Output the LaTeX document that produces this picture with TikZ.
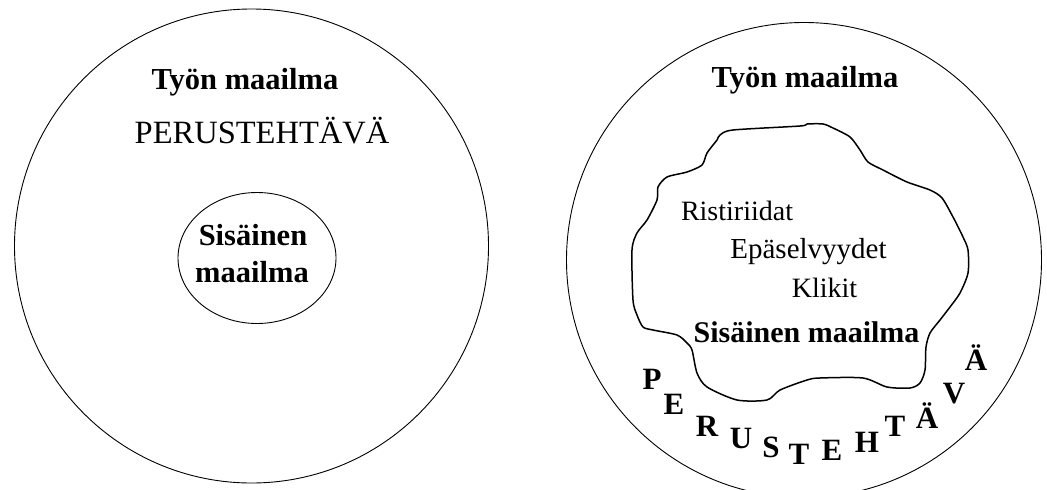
\documentclass[tikz,border=0pt]{standalone}
\usepackage{fontspec}
\setmainfont{Liberation Serif}
\usetikzlibrary{positioning, shapes.geometric}
\tikzset{
    world/.style={draw, circle, line width=0.9pt, inner sep=0pt},
    inner world/.style={draw, ellipse, line width=0.9pt, inner sep=0pt},
    boldlabel/.style={font=\fontsize{30.5}{34}\selectfont\bfseries, anchor=base, inner sep=0pt},
    plainlabel/.style={font=\fontsize{29}{33}\selectfont, anchor=base, inner sep=0pt},
    arcletter/.style={font=\fontsize{31}{34}\selectfont\bfseries, anchor=base, inner sep=0pt},
}

\begin{document}
\begin{tikzpicture}[x=1pt, y=-1pt]
    \useasboundingbox (0,0) rectangle (1047,490);

    % left picture
    \node[world, minimum size=474pt] (work1) at (251.5,246) {};
    \node[inner world, minimum width=158pt, minimum height=131pt] (inner1) at (257,258) {};
    \node[boldlabel] (worktext1) at (245,89) {Työn maailma};
    \node[plainlabel, font=\fontsize{32.5}{36}\selectfont] (task1) at (262,143) {PERUSTEHTÄVÄ};
    \node[boldlabel] (innertext1) at (253,245) {Sisäinen};
    \node[boldlabel] (innertext2) at (252,282) {maailma};

    % right picture
    \node[world, minimum size=475pt] (work2) at (804,260) {};
    \draw[line width=1.5pt] plot[smooth cycle, tension=0.45] coordinates {
        (720,135) (733,130) (800,126) (807,124) (823,124) (833,128)
        (850,137) (860,150) (868,162) (883,170) (907,182) (930,190)
        (942,198) (953,217) (963,237) (968,250) (968,273) (960,293)
        (950,307) (940,320) (930,333) (926,347) (925,370) (920,383)
        (910,388) (887,387) (863,378) (820,378) (807,380) (780,390)
        (767,400) (737,400) (707,387) (697,373) (692,350) (687,343)
        (677,335) (653,330) (643,327) (637,315) (633,300) (632,250)
        (637,233) (647,220) (657,200) (658,187) (667,177) (687,172)
        (702,165) (707,153) (717,140)
    };
    \node[boldlabel] (worktext2) at (805,87) {Työn maailma};
    \node[plainlabel, font=\fontsize{28}{32}\selectfont] (conflicts) at (737,220) {Ristiriidat};
    \node[plainlabel] (unclear) at (808.5,258) {Epäselvyydet};
    \node[plainlabel, font=\fontsize{28}{32}\selectfont] (cliques) at (824.5,297) {Klikit};
    \node[boldlabel, font=\fontsize{30}{34}\selectfont\bfseries] (innertext3) at (806.5,342) {Sisäinen maailma};

    % perustehtava along the bottom
    \foreach \ch/\x/\y [count=\i] in {P/652/389, E/674/414, R/707/436, U/741/448,
        S/771/457, T/799/464, E/832/460, H/867/452, T/895/436, Ä/927/428,
        V/954/403, Ä/976/370}
        \node[arcletter] (task2-\i) at (\x,\y) {\ch};
\end{tikzpicture}
\end{document}
